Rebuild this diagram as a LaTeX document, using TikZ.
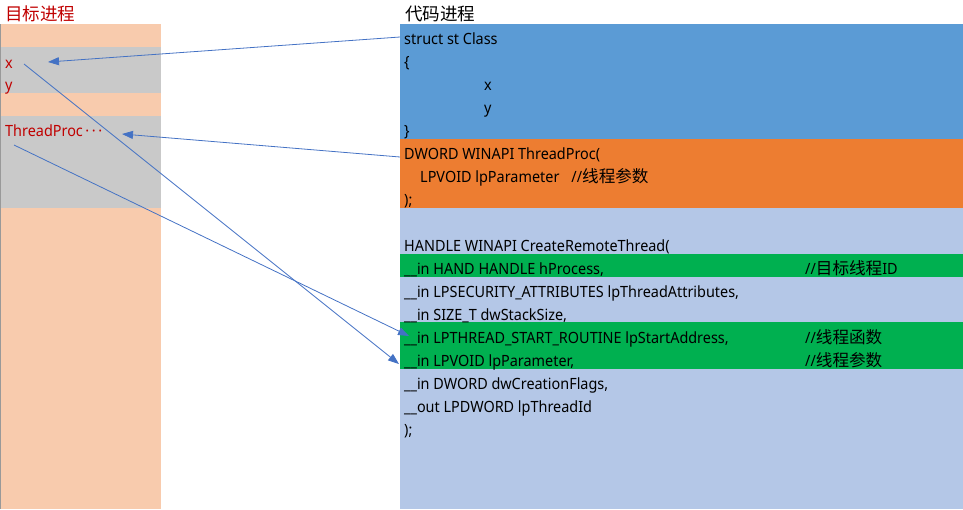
\documentclass[tikz,border=0pt]{standalone}
\usepackage{fontspec}
\setmainfont{Noto Sans}[FakeStretch=0.93]
\newfontfamily\cjk{Noto Sans CJK SC}[Scale=1.07]
\usetikzlibrary{arrows.meta}

\definecolor{peach}{HTML}{F8CBAD}
\definecolor{band}{HTML}{C9C9C9}
\definecolor{clsblue}{HTML}{5B9BD5}
\definecolor{procorange}{HTML}{ED7D31}
\definecolor{apiblue}{HTML}{B4C7E7}
\definecolor{paramgreen}{HTML}{00B050}
\definecolor{linkblue}{HTML}{4472C4}
\definecolor{memred}{HTML}{C00000}

\tikzset{
  code/.style={anchor=base west, yshift=-6pt, inner sep=0pt,
    font=\fontsize{15.5}{19}\selectfont},
  memtext/.style={code, text=memred},
  title/.style={anchor=west, inner sep=0pt, font=\cjk\fontsize{16.4}{20}\selectfont},
  link/.style={linkblue, line width=0.8pt, -{Triangle[length=11pt, width=8pt]}}
}

\begin{document}
\begin{tikzpicture}[x=1pt, y=-1pt]
            \useasboundingbox (0,0) rectangle (963,509);
            % Target process memory
            \fill[peach] (0,24) rectangle (161,509);
            \fill[band] (0,47) rectangle (161,93);
            \fill[band] (0,116) rectangle (161,208);
            \draw[gray!80, line width=1pt] (0.5,24) -- (0.5,509);
            \node[title, text=memred] (tgt) at (5,14) {目标进程};
            \node[memtext] (mx) at (5,62) {x};
            \node[memtext] (my) at (5,84) {y};
            \node[memtext] (mproc) at (5,130) {ThreadProc\,·\,·\,·};
            
            % Code process
            \fill[clsblue] (400,24) rectangle (963,139);
            \fill[procorange] (400,139) rectangle (963,208);
            \fill[apiblue] (400,208) rectangle (963,509);
            \fill[paramgreen] (400,254) rectangle (963,277);
            \fill[paramgreen] (400,322) rectangle (963,369);
            \node[title] (src) at (405,14) {代码进程};
            
            \node[code] (cls) at (404,38) {struct st Class};
            \node[code] (clsopen) at (404,61) {\{};
            \node[code] (clsx) at (484,84) {x};
            \node[code] (clsy) at (484,107) {y};
            \node[code] (clsclose) at (404,130) {\}};
            
            \node[code] (proc) at (404,153) {DWORD WINAPI ThreadProc(};
            \node[code] (procarg) at (420,176) {LPVOID lpParameter\hspace{12pt}//{\cjk 线程参数}};
            \node[code] (procend) at (404,199) {);};
            
            \node[code] (crt) at (404,245) {HANDLE WINAPI CreateRemoteThread(};
            \node[code] (hproc) at (404,268) {\_\_in HAND HANDLE hProcess,};
            \node[code] (attr) at (404,291) {\_\_in LPSECURITY\_ATTRIBUTES lpThreadAttributes,};
            \node[code] (stack) at (404,314) {\_\_in SIZE\_T dwStackSize,};
            \node[code] (start) at (404,337) {\_\_in LPTHREAD\_START\_ROUTINE lpStartAddress,};
            \node[code] (param) at (404,360) {\_\_in LPVOID lpParameter,};
            \node[code] (flags) at (404,383) {\_\_in DWORD dwCreationFlags,};
            \node[code] (tid) at (404,406) {\_\_out LPDWORD lpThreadId};
            \node[code] (crtend) at (404,429) {);};
            \node[code] (cmtid) at (805,268) {//{\cjk 目标线程}ID};
            \node[code] (cmtstart) at (805,337) {//{\cjk 线程函数}};
            \node[code] (cmtparam) at (805,360) {//{\cjk 线程参数}};
            
            % Links
            \coordinate (clsL) at (400,37);
            \coordinate (mxR) at (48,62);
            \coordinate (procL) at (400,157);
            \coordinate (mprocR) at (122,134);
            \coordinate (mxS) at (24,64);
            \coordinate (paramL) at (399,364);
            \coordinate (mprocS) at (14,145);
            \coordinate (startL) at (409,336);
            
            \draw[link] (clsL) -- (mxR);
            \draw[link] (procL) -- (mprocR);
            \draw[link] (mxS) -- (paramL);
            \draw[link] (mprocS) -- (startL);
        \end{tikzpicture}
\end{document}
